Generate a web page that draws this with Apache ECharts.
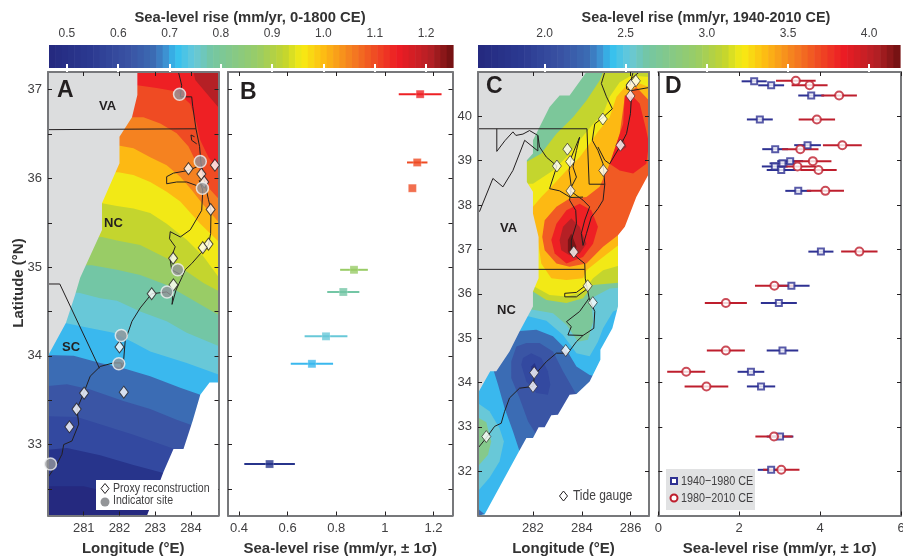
<!DOCTYPE html>
<html><head><meta charset="utf-8">
<style>html,body{margin:0;padding:0;background:#fff}#c{width:903px;height:558px}</style>
<script src="https://cdn.jsdelivr.net/npm/echarts@6/dist/echarts.min.js"></script>
</head><body><div id="c"></div>
<script>
// ---------- DATA (lon °E, lat °N, mm/yr) ----------
const lonRangeA=[280,284.77], latRangeA=[32.2,37.2];
const lonRangeC=[279.75,286.75], latRangeC=[31,41];
const rateRangeB=[0.355,1.278], rateRangeD=[0,6];
const scaleLeft=[0.465,1.2526], scaleRight=[1.59,4.19];
const scaleTicksLeft=[0.5,0.6,0.7,0.8,0.9,1.0,1.1,1.2], scaleTicksRight=[2.0,2.5,3.0,3.5,4.0];
const paletteStops=[0,.1,.2,.26,.29,.315,.36,.4,.517,.584,.626,.683,.745,.807,.864,.943,1];
const paletteColors=['#25297f','#2b3990','#3a53a4','#3b6cb4','#3d93d3','#33c0f0','#68c8d8','#73c6a5','#99cc66','#c4d52e','#f7ec13','#fdb913','#f58220','#ef4b23','#ed1c24','#b52025','#6d1010'];

// Panel A: contour lines, south to north; all above each line takes its colour
const bandsA=[
 [[280,32.53],[281,32.53],[281.93,32.44],[282.77,32.33],[284.77,32.06]],
 [[280,32.94],[280.53,32.96],[281.46,32.88],[282.39,32.77],[283.23,32.68],[284.77,32.47]],
 [[280,33.32],[280.81,33.31],[281.46,33.23],[282.39,33.11],[283.32,32.98],[284.77,32.77]],
 [[280,33.66],[280.53,33.68],[281.18,33.62],[282.11,33.49],[282.86,33.4],[283.6,33.28],[284.77,33.11]],
 [[280,34.01],[280.72,34],[281.46,33.92],[282.11,33.86],[282.86,33.77],[283.7,33.64],[284.26,33.56],[284.77,33.47]],
 [[280.48,34.37],[281.09,34.32],[281.83,34.26],[282.39,34.15],[282.86,34.05],[283.88,33.92],[284.77,33.79]],
 [[280.86,34.71],[281.46,34.65],[281.93,34.62],[282.58,34.5],[283.32,34.39],[283.88,34.26],[284.77,34.11]],
 [[281.23,35.02],[281.93,34.97],[282.58,34.91],[283.32,34.8],[283.88,34.67],[284.77,34.46]],
 [[281.51,35.34],[281.93,35.3],[282.58,35.25],[283.32,35.1],[283.88,34.95],[284.35,34.82],[284.77,34.73]],
 [[281.51,35.72],[281.93,35.69],[282.39,35.66],[282.86,35.61],[283.32,35.49],[283.88,35.31],[284.35,35.12],[284.77,34.89]],
 [[281.97,36.07],[282.39,36.04],[282.86,35.96],[283.32,35.85],[283.7,35.74],[284.26,35.49],[284.77,35.29]],
 [[281.97,36.37],[282.39,36.34],[282.86,36.24],[283.32,36.15],[283.7,36.02],[284.02,35.87],[284.35,35.7],[284.77,35.51]],
 [[282.35,36.69],[282.67,36.69],[283.14,36.62],[283.6,36.51],[283.93,36.36],[284.16,36.17],[284.39,35.94],[284.77,35.77]],
 [[282.5,37.05],[283.04,37.02],[283.6,36.98],[283.98,36.84],[284.16,36.62],[284.26,36.43],[284.49,36.24],[284.77,36.09]]
];
const bandColorsA=['#27348b','#3349a0','#3a55a5','#3b6cb4','#3ab8ee','#68c8d8','#73c6a5','#99cc66','#c4d52e','#f2e916','#fdb913','#f58220','#ef4b23','#ee2024'];
const cornerA=[[284.07,37.2],[284.12,37.11],[284.77,36.8],[284.77,37.2]];
const cornerColorA='#b52025';
const baseColorA='#25297f';
const landA=[[280,37.2],[282.5,37.2],[282.5,36.94],[282.35,36.69],[282,36.47],[282,36.17],[281.51,35.72],[281.51,35.42],[280.9,34.88],[280.76,34.69],[280.5,34.37],[280,34]];
const seaA=[[284.77,33.7],[284.52,33.7],[284.26,33.56],[284.05,33.27],[283.79,32.95],[283.51,32.95],[283.23,32.69],[282.77,32.2],[284.77,32.2]];
const linesA=[
 [[283.65,37.2],[283.74,37.05],[283.7,36.92],[284.02,36.92],[284.05,36.81],[284.14,36.56],[284.24,36.36],[284.28,36.17],[284.37,35.98],[284.49,35.76],[284.56,35.64],[284.55,35.38],[284.49,35.25],[284.26,35.15],[284.02,35.04],[283.84,34.97],[283.74,34.88],[283.58,34.74],[283.47,34.58],[283.49,34.67],[283.32,34.72],[282.9,34.7],[282.58,34.54],[282.35,34.39],[282.16,34.17],[282.11,33.92],[282.05,33.84],[282.05,33.92],[281.83,33.92],[281.46,33.88],[281.18,33.77],[281,33.58],[280.81,33.4],[280.86,33.23],[280.67,33.04],[280.44,33],[280.39,32.89],[280.25,32.78],[280,32.63]],
 [[284.23,35.98],[284.33,35.87],[284.3,35.64],[283.98,35.42],[283.7,35.34],[283.42,35.4],[283.4,35.32],[283.56,35.23],[283.42,35.08],[283.46,34.97],[283.74,34.91]],
 [[284.16,36.13],[283.93,36.09],[283.51,36.06],[283.32,36.02],[283.32,35.94],[283.6,35.96],[283.88,35.96],[284.16,35.92]],
 [[284.1,36.47],[284,36.49],[284.02,36.43],[284.16,36.39]],
 [[280,36.55],[284.14,36.56]],
 [[280,34.81],[280.33,34.81],[281.44,33.86]]
];
const proxySites=[[283.93,36.11],[284.29,36.05],[284.67,36.15],[284.37,35.96],[284.55,35.65],[284.49,35.26],[284.33,35.22],[283.5,35.1],[283.51,34.8],[282.9,34.7],[282,34.1],[281.01,33.58],[282.12,33.59],[280.8,33.4],[280.6,33.2]];
const indicatorSites=[[283.68,36.95],[284.26,36.19],[284.32,35.89],[283.63,34.97],[283.33,34.72],[282.05,34.23],[281.98,33.91],[280.07,32.78]];

// Panel B: rate, lat, error
const ratesB=[[1.145,36.95,0.088],[1.133,36.18,0.042],[1.113,35.89,0],[0.873,34.97,0.057],[0.829,34.72,0.066],[0.758,34.22,0.088],[0.70,33.91,0.087],[0.526,32.78,0.104]];
const colorsB=['#ee2024','#ef4b23','#ef4b23','#99cc66','#73c6a5','#68c8d8','#3ab8ee','#27348b'];

// Panel C: closed contour regions, lowest to highest
const regionsC=[
 [[279.75,33.53],[280.22,33.35],[280.63,32.97],[280.81,32.67],[280.63,32.22],[280.22,31.85],[279.75,31.55]],
 [[279.75,33.21],[280.09,33.1],[280.29,32.67],[280.16,32.37],[279.75,32.11]],
 [[279.75,31.15],[280.02,31.03],[279.75,31]],
 [[280.36,34.32],[280.57,33.95],[280.84,33.42],[281.18,32.9],[281.45,32.45],[284.87,32.45],[284.87,34.1],[284.32,34.17],[283.78,34.36],[283.37,34.74],[282.82,35.04],[282.14,35.19],[281.45,35.16],[280.91,34.7]],
 [[281.32,34.81],[281.11,34.47],[281.11,34.1],[281.45,33.65],[281.8,33.12],[282.14,32.82],[283.78,32.82],[283.78,33.72],[283.23,34.25],[282.82,34.7],[282.27,34.89],[281.73,34.89]],
 [[281.52,34.4],[281.59,34.55],[281.93,34.66],[282.34,34.55],[282.61,34.25],[282.71,33.95],[282.61,33.72],[282.14,33.76],[281.73,34.02]],
 [[281.93,34.36],[282.07,34.44],[282.2,34.25],[282.07,34.14],[281.93,34.21]],
 [[279.75,41],[286.75,41],[286.75,35.9],[285.28,35.6],[284.87,35.22],[284.66,34.92],[284.32,34.59],[283.78,34.66],[283.23,35.07],[282.55,35.39],[281.8,35.49],[279.75,35.49]],
 [[279.75,41],[286.75,41],[286.75,36.2],[285.14,36.12],[284.39,35.9],[284.46,35.37],[284.25,34.96],[283.84,34.92],[283.37,35.3],[282.82,35.56],[282,35.64],[279.75,35.64]],
 [[281.5,38.9],[282.34,39.16],[282.96,39.61],[283.64,39.98],[284.19,40.36],[284.73,40.81],[284.87,41],[286.75,41],[286.75,36.31],[284.46,36.2],[284.05,35.9],[283.37,35.79],[282.55,35.86],[282,36.05],[281.5,36.05]],
 [[281.5,38.48],[282,38.48],[282.82,38.78],[283.37,39.08],[283.91,39.46],[284.46,39.83],[284.87,40.06],[285.14,40.44],[285.55,40.77],[286.03,40.92],[286.75,40.89],[286.75,36.83],[284.87,36.53],[284.46,36.35],[284.05,36.05],[283.37,35.94],[282.68,35.97],[282.07,36.16],[281.5,36.16]],
 [[282,37.96],[282.34,38.18],[282.82,38.45],[283.37,38.78],[283.91,39.08],[284.32,39.38],[284.66,39.65],[285.14,39.98],[285.42,40.44],[285.83,40.7],[286.23,40.77],[286.75,40.66],[286.75,37.2],[285.48,37.09],[284.87,36.83],[284.19,36.53],[284.05,36.35],[283.37,36.31],[282.75,36.35],[282.34,36.68],[282.2,37.21],[282,37.21]],
 [[282.38,37.28],[282.48,37.66],[282.96,37.96],[283.5,38.15],[284.19,38.18],[284.73,38.41],[285.14,38.93],[285.55,39.61],[285.76,40.44],[286.23,40.66],[286.75,40.36],[286.75,37.3],[285.48,37.32],[284.87,37.06],[284.19,36.68],[283.5,36.61],[282.96,36.68],[282.48,36.98]],
 [[282.75,37.21],[282.96,37.58],[283.37,37.88],[283.91,38.03],[284.39,37.88],[284.66,37.51],[284.46,37.13],[284.05,36.83],[283.37,36.68],[282.89,36.91]],
 [[285.76,40.47],[286.1,40.44],[286.37,40.29],[286.64,39.68],[286.75,39.38],[286.64,38.93],[286.1,38.71],[285.55,38.78],[285.14,38.93],[285.42,39.38],[285.69,39.83]],
 [[283.09,37.21],[283.23,37.51],[283.57,37.7],[283.91,37.51],[284.19,37.13],[283.91,36.91],[283.5,36.87],[283.16,36.98]],
 [[285.48,39.42],[285.69,39.5],[285.83,39.31],[285.62,39.23]],
 [[283.43,37.21],[283.57,37.36],[283.78,37.06],[283.64,36.83],[283.43,36.94]]
];
const regionColorsC=['#68c8d8','#85c98c','#3b6cb4','#3b6cb4','#3a55a5','#3349a0','#27348b','#68c8d8','#7cc79a','#c4d52e','#f2e916','#fdb913','#f15a24','#ee2024','#ee2024','#b52025','#b52025','#7a1416'];
const baseColorC='#3ab8ee';
const domainC=[[279.75,41],[286.75,41],[286.75,31],[279.75,31]];
const landC=[[279.75,41],[284.19,41],[283.5,40.47],[283.09,40.47],[282.68,40.21],[282.2,39.68],[282,39.46],[282,39.16],[281.75,39.01],[281.75,38.52],[282,38.3],[282,37.81],[282.23,37.28],[282.23,36.35],[282,36.05],[282,35.71],[281.45,35.15],[281.04,34.7],[280.5,34.25],[280.25,34.25],[279.75,33.76]];
const seaC=[[286.75,38.71],[286.23,38.18],[285.76,37.51],[285.48,37.32],[285.48,35.71],[285.25,35.22],[284.76,34.74],[284.76,34.51],[284.32,34.02],[283.78,33.74],[283.5,33.72],[283.02,33.27],[282.75,33.26],[282.48,32.99],[282.23,32.99],[282,32.75],[281.73,32.75],[281.43,32.45],[280.02,31.02],[279.75,31],[286.75,31]];
const linesC=[
 [[279.75,36.55],[284.12,36.55]],
 [[279.75,39.72],[284.21,39.72],[284.3,38.47],[284.94,38.47]],
 [[280.52,39.72],[280.52,39.21],[280.85,39.45],[281.18,39.65],[281.3,39.57],[281.59,39.6],[281.86,39.68],[282.2,39.57],[282.2,39.22],[281.66,39.46],[281.18,38.78],[280.77,38.41],[280.36,38.6],[279.81,37.85]],
 [[282.2,39.57],[282.27,39.31],[282.55,39.08],[282.98,38.88],[282.68,38.37],[283.09,38.32],[283.54,38.17],[284.05,38.18]],
 [[284.94,41],[284.8,40.74],[285.01,40.44],[285.25,40.17],[284.87,39.98],[284.53,39.83],[284.43,39.46],[284.66,39.23],[284.87,38.93],[284.94,38.47],[284.87,38.11],[284.66,37.92],[284.39,37.73],[284.19,37.36],[284.05,37.09],[283.98,37.36],[284.12,37.66],[284.32,37.96],[284.05,38.11],[283.5,38.33],[283.78,38.63],[283.64,38.86],[283.78,39.23],[283.91,39.53]],
 [[283.91,39.53],[283.57,39.08],[283.48,38.78],[283.57,38.41],[283.5,38.11],[283.75,37.88],[283.78,37.58],[283.57,37.21],[283.57,37.02],[283.78,36.83],[284.12,36.68],[284.14,36.35],[284.3,35.9],[284.53,35.6],[284.49,35.22],[284.05,35.06],[283.78,34.92],[283.43,34.66],[282.96,34.66],[282.55,34.47],[282.07,34.17],[282,33.91],[281.45,33.87],[281.04,33.65],[280.84,33.35],[280.7,33.08],[280.43,33.01],[280.09,32.75],[279.75,32.52]],
 [[286.03,40.44],[285.99,40.06],[285.83,39.61],[285.55,39.31],[285.14,38.93],[284.94,39.01],[284.66,39.31]],
 [[286.75,40.65],[286.03,40.58],[285.83,40.62],[285.83,40.72],[286.03,40.85],[286.35,41]],
 [[286.1,41],[285.96,40.7]],
 [[284.3,35.9],[283.91,35.6],[283.37,35.37],[283.57,35.26],[283.43,35.07],[284.05,35.06]],
 [[284.19,36.2],[283.78,36.03],[283.3,36.01],[283.3,35.93],[283.78,35.93],[284.19,36.1]]
];
const tideGauges=[[286.21,40.8],[286,40.7],[285.99,40.46],[284.86,39.94],[285.58,39.35],[283.41,39.26],[282.98,38.88],[283.52,38.98],[284.88,38.78],[283.54,38.32],[283.67,36.94],[284.24,36.18],[284.45,35.8],[283.34,34.72],[282.05,34.22],[282,33.91],[280.09,32.78]];

// Panel D: rate, lat, error
const rates1940=[[2.37,40.79,.31],[2.79,40.7,.32],[3.78,40.47,.32],[2.51,39.93,.32],[3.69,39.35,.33],[2.89,39.26,.32],[3.26,38.99,.32],[3.07,38.94,.32],[2.88,38.87,.32],[3.04,38.79,.36],[3.46,38.32,.32],[4.02,36.95,.31],[3.29,36.18,.45],[2.98,35.79,.445],[3.07,34.72,.39],[2.29,34.24,.33],[2.54,33.91,.35],[3.01,32.78,.33],[2.79,32.03,.33]];
const rates1980=[[3.4,40.8,.49],[3.74,40.7,.445],[4.47,40.47,.44],[3.92,39.93,.45],[4.55,39.35,.48],[3.51,39.26,.45],[3.82,38.99,.46],[3.44,38.87,.46],[3.96,38.79,.45],[4.13,38.32,.46],[4.97,36.95,.45],[2.87,36.18,.48],[1.67,35.79,.52],[1.67,34.72,.47],[.69,34.24,.47],[1.19,33.91,.54],[2.86,32.78,.46],[3.04,32.03,.45]];

// Ticks
const lonTicksA=[281,282,283,284], latTicksA=[32.5,33,33.5,34,34.5,35,35.5,36,36.5,37], latLabelsA=[33,34,35,36,37];
const rateTicksB=[.4,.6,.8,1,1.2];
const lonTicksC=[282,284,286], latTicksC=[32,33,34,35,36,37,38,39,40], rateTicksD=[0,2,4,6];

// ---------- STYLE ----------
const tickFont='"Liberation Sans",Arial,sans-serif', bold='"Liberation Sans",Arial,sans-serif';
const ink='#414042', frame='#77787b', landColor='#dcddde', blue='#2e3192', red='#be1e2d', diamondSize=[9,12];

function hex(c){return [1,3,5].map(i=>parseInt(c.substr(i,2),16));}
function paletteAt(f){
  let i=0; while(i<paletteStops.length-2&&f>paletteStops[i+1])i++;
  const t=Math.max(0,Math.min(1,(f-paletteStops[i])/(paletteStops[i+1]-paletteStops[i])));
  const a=hex(paletteColors[i]),b=hex(paletteColors[i+1]);
  return 'rgb('+a.map((v,k)=>Math.round(v+(b[k]-v)*t)).join(',')+')';
}
function closeBand(curve,lonR,latR){ // region north of a contour line
  const top=latR[1], first=curve[0], last=curve[curve.length-1];
  return [[lonR[0],first[1]],...curve,[lonR[1],last[1]],[lonR[1],top],[lonR[0],top]];
}
function shapes(polys,fills,g,strokes,z){
  return {type:'custom',xAxisIndex:2*g,yAxisIndex:2*g,silent:true,clip:true,z:z||2,animation:false,
    data:polys.map((p,i)=>[i]),
    renderItem:(params,api)=>{
      const pts=polys[params.dataIndex].map(p=>api.coord(p));
      return strokes?{type:'polyline',shape:{points:pts},style:{stroke:strokes,lineWidth:1,fill:null}}
        :{type:'polygon',shape:{points:pts},style:{fill:fills[params.dataIndex]}};
    }};
}
function errorBars(rows,color,g,z){
  return {type:'custom',xAxisIndex:2*g,yAxisIndex:2*g,silent:true,z:z,animation:false,encode:{x:0,y:1},data:rows,
    renderItem:(params,api)=>{
      const v=api.value(0),l=api.value(1),e=api.value(2);
      const a=api.coord([v-e,l]),b=api.coord([v+e,l]);
      return {type:'line',shape:{x1:a[0],y1:a[1],x2:b[0],y2:b[1]},style:{stroke:Array.isArray(color)?color[params.dataIndex]:color,lineWidth:2}};
    }};
}
function scatter(rows,g,symbol,size,style,z){
  return {type:'scatter',xAxisIndex:2*g,yAxisIndex:2*g,symbol:symbol,symbolSize:size,itemStyle:style,data:rows,z:z||30,clip:false,silent:true,animation:false};
}
function axisPair(range,ticks,labels,pos,name,gridIndex,extra){
  const common={type:'value',min:range[0],max:range[1],gridIndex:gridIndex,z:20,splitLine:{show:false},
    axisLine:{show:true,onZero:false,lineStyle:{color:frame,width:2}},
    axisTick:{show:true,inside:true,length:4,customValues:ticks,lineStyle:{color:'#231f20',width:1}}};
  const a=Object.assign({},common,{position:pos[0],
    axisLabel:labels?{show:true,customValues:labels,color:ink,fontFamily:tickFont,fontSize:13,margin:6,showMinLabel:true,showMaxLabel:true,formatter:v=>String(v)}:{show:false}},extra||{});
  if(name){a.name=name;a.nameLocation='middle';a.nameTextStyle={color:'#333',fontFamily:bold,fontWeight:'bold',fontSize:15};}
  const b=Object.assign({},common,{position:pos[1],axisLabel:{show:false}});
  return [a,b];
}
function scaleBarAxis(range,ticks,g){
  const mk=(pos,lab)=>({type:'value',min:range[0],max:range[1],gridIndex:g,position:pos,z:20,splitLine:{show:false},
    axisLine:{show:false},
    axisTick:{show:true,inside:true,length:4,customValues:ticks,lineStyle:{color:'#fff',width:2}},
    axisLabel:lab?{show:true,customValues:ticks,color:ink,fontFamily:tickFont,fontSize:12,margin:5,formatter:v=>v.toFixed(1)}:{show:false}});
  return [mk('bottom',false),mk('top',true)];
}
function scaleBar(range,g){
  const n=64, cells=[]; for(let i=0;i<n;i++)cells.push(i);
  return {type:'custom',xAxisIndex:2*g,yAxisIndex:2*g,silent:true,animation:false,z:2,data:cells.map(i=>[i]),
    renderItem:(params,api)=>{
      const i=params.dataIndex, w=range[1]-range[0];
      const p0=api.coord([range[0]+w*i/n,1]), p1=api.coord([range[0]+w*(i+1)/n,0]);
      return {type:'rect',shape:{x:p0[0],y:p0[1],width:p1[0]-p0[0]+0.6,height:p1[1]-p0[1]},style:{fill:paletteAt((i+.5)/n)}};
    }};
}
const hiddenY=(g)=>({type:'value',min:0,max:1,gridIndex:g,show:false});
const txt=(s,x,y,font,fill,align,sx)=>({type:'text',z:60,x:x,y:y,scaleX:sx||1,silent:true,style:{text:s,font:font,fill:fill||'#333',textAlign:align||'left',textVerticalAlign:'middle'}});

const diamondStyle={color:'#fff',borderColor:'#231f20',borderWidth:1};
const circleStyle={color:'#939598',borderColor:'#f1f2f2',borderWidth:1.5};

const option={
  animation:false,backgroundColor:'#fff',
  grid:[
    {left:48,width:170.5,top:72,height:443.5,outerBoundsMode:'none'},
    {left:228,width:224.5,top:72,height:443.5,outerBoundsMode:'none'},
    {left:478,width:171,top:72,height:443.5,outerBoundsMode:'none'},
    {left:658.3,width:242.7,top:72,height:443.5,outerBoundsMode:'none'},
    {left:49,width:404,top:45,height:23,outerBoundsMode:'none'},
    {left:478,width:422,top:45,height:23,outerBoundsMode:'none'}
  ],
  xAxis:[
    ...axisPair(lonRangeA,lonTicksA,lonTicksA,['bottom','top'],'Longitude (°E)',0,{nameGap:26}),
    ...axisPair(rateRangeB,rateTicksB,rateTicksB,['bottom','top'],'Sea-level rise (mm/yr, ± 1σ)',1,{nameGap:26}),
    ...axisPair(lonRangeC,lonTicksC,lonTicksC,['bottom','top'],'Longitude (°E)',2,{nameGap:26}),
    ...axisPair(rateRangeD,rateTicksD,rateTicksD,['bottom','top'],'Sea-level rise (mm/yr, ± 1σ)',3,{nameGap:26}),
    ...scaleBarAxis(scaleLeft,scaleTicksLeft,4),
    ...scaleBarAxis(scaleRight,scaleTicksRight,5)
  ],
  yAxis:[
    ...axisPair(latRangeA,latTicksA,latLabelsA,['left','right'],null,0),
    ...axisPair(latRangeA,latTicksA,null,['left','right'],null,1),
    ...axisPair(latRangeC,latTicksC,latTicksC,['left','right'],null,2),
    ...axisPair(latRangeC,latTicksC,null,['left','right'],null,3),
    hiddenY(4),hiddenY(4),hiddenY(5),hiddenY(5)
  ],
  series:[
    // Panel A
    shapes([[[lonRangeA[0],latRangeA[1]],[lonRangeA[1],latRangeA[1]],[lonRangeA[1],latRangeA[0]],[lonRangeA[0],latRangeA[0]]]],[baseColorA],0),
    shapes(bandsA.map(c=>closeBand(c,lonRangeA,latRangeA)),bandColorsA,0,null,3),
    shapes([cornerA],[cornerColorA],0,null,3),
    shapes([landA],[landColor],0,null,4),
    shapes([seaA],['#fff'],0,null,4),
    shapes(linesA,null,0,'#231f20',5),
    scatter(proxySites,0,'diamond',diamondSize,diamondStyle),
    scatter(indicatorSites,0,'circle',12,circleStyle,31),
    // Panel B
    errorBars(ratesB,colorsB,1,5),
    scatter(ratesB,1,'rect',8,{color:p=>colorsB[p.dataIndex],borderColor:'rgba(255,255,255,.5)',borderWidth:.5}),
    // Panel C
    shapes([domainC],[baseColorC],2),
    shapes(regionsC,regionColorsC,2,null,3),
    shapes([landC],[landColor],2,null,4),
    shapes([seaC],['#fff'],2,null,4),
    shapes(linesC,null,2,'#231f20',5),
    scatter(tideGauges,2,'diamond',diamondSize,{color:'#fff',borderColor:'#231f20',borderWidth:.8}),
    // Panel D
    errorBars(rates1940,blue,3,5),
    errorBars(rates1980,red,3,6),
    scatter(rates1940,3,'rect',6,{color:'#fff',borderColor:blue,borderWidth:2}),
    scatter(rates1980,3,'circle',8,{color:'#fff',borderColor:red,borderWidth:2},31),
    // Colour scales
    scaleBar(scaleLeft,4),
    scaleBar(scaleRight,5)
  ],
  graphic:{elements:[
    txt('Sea-level rise (mm/yr, 0-1800 CE)',250,18,'bold 14.8px '+bold,'#333','center'),
    txt('Sea-level rise (mm/yr, 1940-2010 CE)',706,18,'bold 14.4px '+bold,'#333','center'),
    {type:'text',z:60,x:19,y:283,rotation:Math.PI/2,silent:true,style:{text:'Latitude (°N)',font:'bold 15px '+bold,fill:'#333',textAlign:'center',textVerticalAlign:'middle'}},
    txt('A',57,91,'bold 23px '+bold,'#231f20'),
    txt('B',240,93,'bold 23px '+bold,'#231f20'),
    txt('C',486,87,'bold 23px '+bold,'#231f20'),
    txt('D',665,87,'bold 23px '+bold,'#231f20'),
    txt('VA',99,106,'bold 13px '+bold,'#231f20'),
    txt('NC',104,223,'bold 13px '+bold,'#231f20'),
    txt('SC',62,347,'bold 13px '+bold,'#231f20'),
    txt('VA',500,228,'bold 13px '+bold,'#231f20'),
    txt('NC',497,310,'bold 13px '+bold,'#231f20'),
    {type:'rect',z:55,silent:true,shape:{x:96,y:480,width:122,height:30},style:{fill:'#fff'}},
    {type:'polygon',z:60,silent:true,shape:{points:[[105,483.5],[109,488.5],[105,493.5],[101,488.5]]},style:{fill:'#fff',stroke:'#231f20',lineWidth:1}},
    {type:'circle',z:60,silent:true,shape:{cx:105,cy:502,r:4.5},style:{fill:'#939598'}},
    txt('Proxy reconstruction',113,488,'13px '+tickFont,ink,'left',.815),
    txt('Indicator site',113,500.5,'13px '+tickFont,ink,'left',.815),
    {type:'polygon',z:60,silent:true,shape:{points:[[563.5,491],[567.5,496],[563.5,501],[559.5,496]]},style:{fill:'#fff',stroke:'#231f20',lineWidth:1}},
    txt('Tide gauge',573,496,'14px '+tickFont,ink,'left',.855),
    {type:'rect',z:55,silent:true,shape:{x:666,y:469,width:89,height:41},style:{fill:'#e1e2e3'}},
    {type:'rect',z:60,silent:true,shape:{x:671,y:478,width:6,height:6},style:{fill:'#fff',stroke:blue,lineWidth:2}},
    {type:'circle',z:60,silent:true,shape:{cx:674,cy:498,r:3.5},style:{fill:'#fff',stroke:red,lineWidth:2}},
    txt('1940−1980 CE',681,481.5,'13px '+tickFont,ink,'left',.83),
    txt('1980−2010 CE',681,498,'13px '+tickFont,ink,'left',.83)
  ]}
};
const chart=echarts.init(document.getElementById('c'),null,{renderer:'canvas'});
chart.setOption(option);
</script></body></html>
